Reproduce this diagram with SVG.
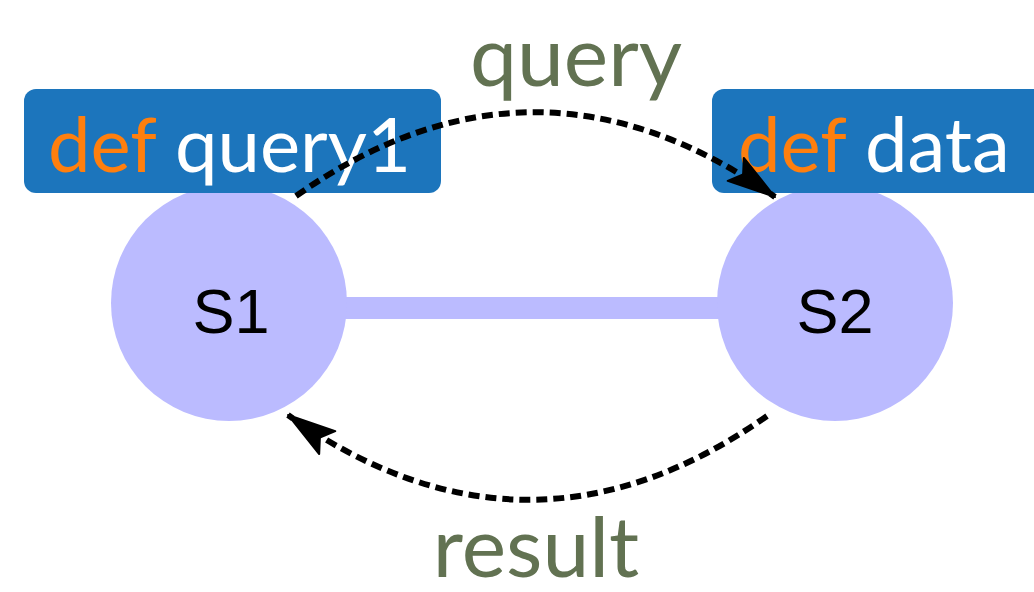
<svg xmlns="http://www.w3.org/2000/svg" width="1034" height="592" viewBox="0 0 1034 592">
  <style>
    .code { fill: #1c75bc; }
    .code-text { font-family: Lato, "Liberation Sans", sans-serif; font-size: 76px; fill: #ffffff; }
    .kw { fill: #ff7f0e; }
    .state { fill: #bbbbff; }
    .state-label { font-family: "Liberation Sans", Arial, sans-serif; font-size: 63px; fill: #000000; text-anchor: middle; }
    .msg { fill: none; stroke: #000000; stroke-width: 6; stroke-dasharray: 11 6; marker-end: url(#arrow); }
    .msg-label { font-family: Lato, "Liberation Sans", sans-serif; font-size: 84px; fill: #627252; text-anchor: middle; }
  </style>
  <defs>
    <marker id="arrow" markerUnits="userSpaceOnUse" markerWidth="52" markerHeight="34" refX="48" refY="15" orient="auto" overflow="visible">
      <path d="M0,1 L48,15 L0,29 L9,15 Z" fill="#000000" stroke="#000000" stroke-width="2" stroke-linejoin="round"/>
    </marker>
  </defs>

  <rect width="1034" height="592" fill="#ffffff"/>

  <!-- link between the two states -->
  <g id="links">
    <line x1="340" y1="308" x2="724" y2="308" stroke="#bbbbff" stroke-width="22"/>
  </g>

  <g id="S1">
    <circle class="state" cx="229" cy="303" r="118"/>
    <text class="state-label" x="231" y="333">S1</text>
  </g>

  <g id="S2">
    <circle class="state" cx="835" cy="303" r="118"/>
    <text class="state-label" x="835" y="333">S2</text>
  </g>

  <g id="code-S1">
    <rect class="code" x="24" y="89" width="417" height="104" rx="12"/>
    <text class="code-text" x="48" y="172"><tspan class="kw">def</tspan> query1</text>
  </g>

  <g id="code-S2">
    <rect class="code" x="712" y="89" width="340" height="104" rx="12"/>
    <text class="code-text" x="738" y="172"><tspan class="kw">def</tspan> data</text>
  </g>

  <!-- messages exchanged between the states -->
  <g id="connectors">
    <path class="msg" d="M296,196 Q535,28 775,197"/>
    <path class="msg" d="M767,416 Q528,584 288,415"/>
  </g>

  <g id="labels">
    <text class="msg-label" x="576" y="86">query</text>
    <text class="msg-label" x="536" y="577">result</text>
  </g>
</svg>
